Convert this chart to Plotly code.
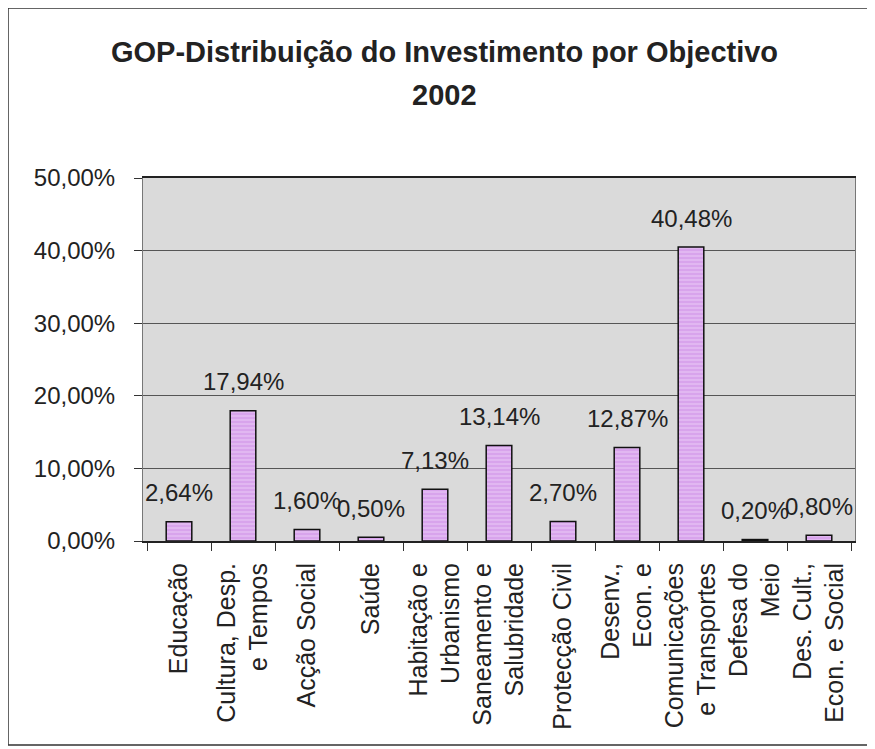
import plotly.graph_objects as go

categories = [
    "Educação",
    "Cultura, Desp.<br>e Tempos",
    "Acção Social",
    "Saúde",
    "Habitação e<br>Urbanismo",
    "Saneamento e<br>Salubridade",
    "Protecção Civil",
    "Desenv.,<br>Econ. e",
    "Comunicações<br>e Transportes",
    "Defesa do<br>Meio",
    "Des. Cult.,<br>Econ. e Social",
]
values = [0.0264, 0.1794, 0.0160, 0.0050, 0.0713, 0.1314, 0.0270, 0.1287, 0.4048, 0.0020, 0.0080]
labels = ["2,64%", "17,94%", "1,60%", "0,50%", "7,13%", "13,14%", "2,70%", "12,87%", "40,48%", "0,20%", "0,80%"]
y_ticks = [0, 0.1, 0.2, 0.3, 0.4, 0.5]
title_line1 = "GOP-Distribuição do Investimento por Objectivo"
title_line2 = "2002"

# the page body adds an 8px offset; positions below are in figure pixels
OFF = 8
W, H = 875, 749
L, R, T, B = 143 - OFF, 875 - (855 - OFF), 178 - OFF, 749 - (541 - OFF)
pw, ph = W - L - R, H - T - B

def px_x(x):
    return (x - OFF - L) / pw

def px_y(y):
    return (H - B - (y - OFF)) / ph

fig = go.Figure()
fig.add_trace(go.Bar(
    x=categories,
    y=values,
    marker=dict(
        color="#dcaaf0",
        line=dict(color="#111111", width=1.5),
        pattern=dict(shape="-", fgcolor="#f0d8f8", bgcolor="#d8a4ec", size=4, solidity=0.35),
    ),
    width=0.4,
))

for c, v, t in zip(categories, values, labels):
    fig.add_annotation(x=c, y=v, text=t, showarrow=False, yshift=29,
                       font=dict(family="Liberation Sans, Arial", size=24, color="#222"))

title_font = dict(family="Liberation Sans, Arial", size=29, color="#222", weight="bold")
fig.add_annotation(xref="paper", yref="paper", x=px_x(444), y=px_y(52), text=title_line1,
                   showarrow=False, font=title_font, xanchor="center", yanchor="middle")
fig.add_annotation(xref="paper", yref="paper", x=px_x(444), y=px_y(95), text=title_line2,
                   showarrow=False, font=title_font, xanchor="center", yanchor="middle")

fig.add_shape(type="rect", xref="paper", yref="paper",
              x0=px_x(8), x1=px_x(869), y0=px_y(745), y1=px_y(8),
              line=dict(color="#333", width=1.5), layer="below")

fig.update_layout(
    width=W, height=H,
    margin=dict(l=L, r=R, t=T, b=B, autoexpand=False),
    paper_bgcolor="white",
    plot_bgcolor="#dadada",
    separators=",.",
    showlegend=False,
    font=dict(family="Liberation Sans, Arial", color="#222"),
)
fig.update_yaxes(
    range=[0, 0.5], tickvals=y_ticks, tickformat=".2%", automargin=False,
    tickfont=dict(size=24, family="Liberation Sans, Arial", color="#222"),
    showgrid=True, gridcolor="#555", gridwidth=1,
    ticks="outside", ticklen=8, tickcolor="#333", ticklabelstandoff=14,
    showline=True, linecolor="#777", mirror=True, zeroline=False,
)
fig.update_xaxes(
    tickangle=-90, automargin=False,
    tickfont=dict(size=25, family="Liberation Sans, Arial", color="#222"),
    ticks="outside", tickson="boundaries", ticklen=8, tickcolor="#333", ticklabelstandoff=10,
    showline=True, linecolor="#222", linewidth=2, mirror=True,
)

fig.write_html("out.html")
